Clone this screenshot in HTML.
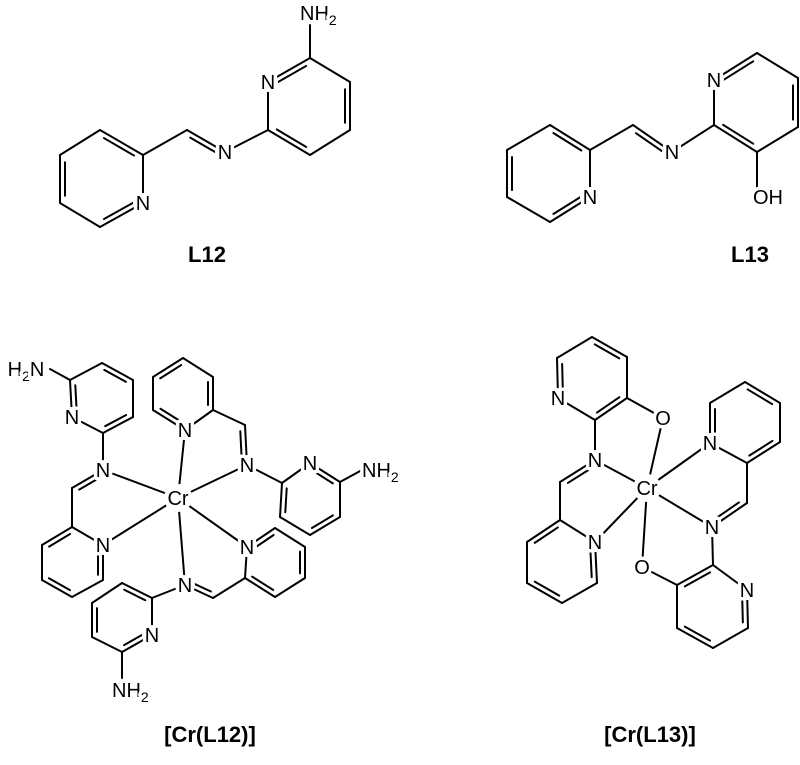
<!DOCTYPE html>
<html><head><meta charset="utf-8"><style>
html,body{margin:0;padding:0;background:#fff;}
svg{display:block}
text{font-family:"Liberation Sans",Arial,sans-serif;fill:#000;}
.a{font-size:20px;text-anchor:middle;stroke:#fff;stroke-width:7px;paint-order:stroke;stroke-linejoin:round}
.t{font-size:22px;font-weight:bold;text-anchor:middle}
</style></head><body>
<svg id="s" width="800" height="765" viewBox="0 0 800 765" xmlns="http://www.w3.org/2000/svg">
<g id="b" stroke="#000" stroke-width="2" stroke-linecap="round" fill="none"></g>
<g id="m" fill="#fff"></g>
<g id="lab">
<!-- L12 -->
<text class="a" x="143" y="210">N</text>
<text class="a" x="225" y="159">N</text>
<text class="a" x="268" y="89">N</text>
<text class="a" x="300" y="20" style="text-anchor:start">NH<tspan font-size="14" dy="5">2</tspan></text>
<text class="t" x="207" y="262">L12</text>
<!-- L13 -->
<text class="a" x="590" y="204">N</text>
<text class="a" x="672" y="159">N</text>
<text class="a" x="714" y="87">N</text>
<text class="a" x="768" y="204">OH</text>
<text class="t" x="750" y="262">L13</text>
<!-- Cr(L12) -->
<text class="a" x="178" y="505">Cr</text>
<text class="a" x="72" y="424">N</text>
<text class="a" x="26" y="376">H<tspan font-size="14" dy="5">2</tspan><tspan dy="-5">N</tspan></text>
<text class="a" x="103" y="477">N</text>
<text class="a" x="103" y="552">N</text>
<text class="a" x="185" y="437">N</text>
<text class="a" x="247" y="472">N</text>
<text class="a" x="310" y="470">N</text>
<text class="a" x="362" y="477" style="text-anchor:start">NH<tspan font-size="14" dy="5">2</tspan></text>
<text class="a" x="247" y="554">N</text>
<text class="a" x="185" y="592">N</text>
<text class="a" x="152" y="642">N</text>
<text class="a" x="112" y="697" style="text-anchor:start">NH<tspan font-size="14" dy="5">2</tspan></text>
<text class="t" x="210" y="742">[Cr(L12)]</text>
<!-- Cr(L13) -->
<text class="a" x="647" y="495">Cr</text>
<text class="a" x="558" y="405">N</text>
<text class="a" x="663" y="425">O</text>
<text class="a" x="595" y="467">N</text>
<text class="a" x="595" y="549">N</text>
<text class="a" x="710" y="450">N</text>
<text class="a" x="712" y="534">N</text>
<text class="a" x="747" y="597">N</text>
<text class="a" x="642" y="574">O</text>
<text class="t" x="650" y="742">[Cr(L13)]</text>
</g>
</svg>
<script>
var NS='http://www.w3.org/2000/svg';
var g=document.getElementById('b'),m=document.getElementById('m');
function L(a,b,c,d){var l=document.createElementNS(NS,'line');l.setAttribute('x1',a);l.setAttribute('y1',b);l.setAttribute('x2',c);l.setAttribute('y2',d);g.appendChild(l);}
function M(x,y,r){var c=document.createElementNS(NS,'circle');c.setAttribute('cx',x);c.setAttribute('cy',y);c.setAttribute('r',r);m.appendChild(c);}
function B(p,q){L(p[0],p[1],q[0],q[1]);}
function inner(p,q,c){var dx=q[0]-p[0],dy=q[1]-p[1],len=Math.hypot(dx,dy);var nx=-dy/len,ny=dx/len;var mx=(p[0]+q[0])/2-c[0],my=(p[1]+q[1])/2-c[1];if(nx*mx+ny*my>0){nx=-nx;ny=-ny;}var o=5,s=0.15;L(p[0]+dx*s+nx*o,p[1]+dy*s+ny*o,q[0]-dx*s+nx*o,q[1]-dy*s+ny*o);}
function ring(P,d){var c=[0,0];P.forEach(function(p){c[0]+=p[0]/6;c[1]+=p[1]/6;});for(var i=0;i<6;i++){var p=P[i],q=P[(i+1)%6];B(p,q);if(d.indexOf(i)>=0)inner(p,q,c);}}
function dbl(p,q,side){inner(p,q,side);B(p,q);}
// masks behind labels
[[143,203],[225,152],[268,82],[590,197],[672,152],[714,80],[72,417],[103,470],[103,545],[185,430],[247,465],[310,463],[247,547],[185,585],[152,635],[558,398],[663,418],[595,460],[595,542],[710,443],[712,527],[747,590],[642,567]].forEach(function(p){M(p[0],p[1],10);});
M(178,498,14);M(647,488,14);M(768,197,14);
// L12
ring([[100,130],[143,155],[143,203],[100,227],[60,203],[60,155]],[0,2,4]);
B([143,155],[187,130]);dbl([187,130],[225,152],[220,200]);B([225,152],[268,130]);
ring([[268,130],[268,82],[310,58],[350,82],[350,130],[310,155]],[1,3,5]);
B([310,58],[310,25]);
// L13
ring([[550,125],[590,150],[590,197],[550,222],[507,197],[507,150]],[0,2,4]);
B([590,150],[633,125]);dbl([633,125],[672,152],[665,200]);B([672,152],[714,125]);
ring([[714,125],[714,80],[757,53],[798,78],[798,127],[757,152]],[1,3,5]);
B([757,152],[757,188]);
// Cr(L12)
var C=[178,498];
ring([[70,380],[102,363],[133,380],[133,417],[103,433],[72,417]],[1,3,5]);
B([70,380],[50,369]);
B([103,433],[103,470]);B([103,470],C);
dbl([103,470],[72,488],[120,520]);B([72,488],[72,527]);
ring([[72,527],[103,545],[103,580],[72,597],[42,580],[42,545]],[1,3,5]);
B([103,545],C);
ring([[185,430],[153,410],[153,377],[183,358],[213,377],[213,410]],[0,2,4]);
B([185,430],C);B([213,410],[245,425]);dbl([245,425],[247,465],[200,440]);B([247,465],C);B([247,465],[282,483]);
ring([[282,483],[310,463],[340,482],[340,517],[310,535],[280,517]],[1,3,5]);
B([340,482],[362,470]);
ring([[247,547],[275,528],[305,547],[305,578],[275,597],[245,578]],[0,2,4]);
B([247,547],C);B([245,578],[213,598]);dbl([213,598],[185,585],[200,560]);B([185,585],C);B([185,585],[152,598]);
ring([[152,598],[152,635],[122,652],[92,637],[92,603],[122,583]],[1,3,5]);
B([122,652],[122,678]);
// Cr(L13)
var D=[647,488];
ring([[595,420],[558,398],[557,358],[592,337],[627,357],[627,398]],[1,3,5]);
B([627,398],[663,418]);B([663,418],D);
B([595,420],[595,460]);B([595,460],D);dbl([595,460],[560,482],[600,520]);B([560,482],[560,520]);
ring([[560,520],[595,542],[597,583],[562,603],[527,583],[527,542]],[1,3,5]);
B([595,542],D);
ring([[710,443],[710,403],[745,382],[780,403],[780,442],[747,463]],[0,2,4]);
B([710,443],D);B([747,463],[747,503]);dbl([747,503],[712,527],[700,480]);B([712,527],D);B([712,527],[713,565]);
ring([[713,565],[747,590],[748,628],[713,648],[677,628],[677,585]],[1,3,5]);
B([677,585],[642,567]);B([642,567],D);
</script>
</body></html>
